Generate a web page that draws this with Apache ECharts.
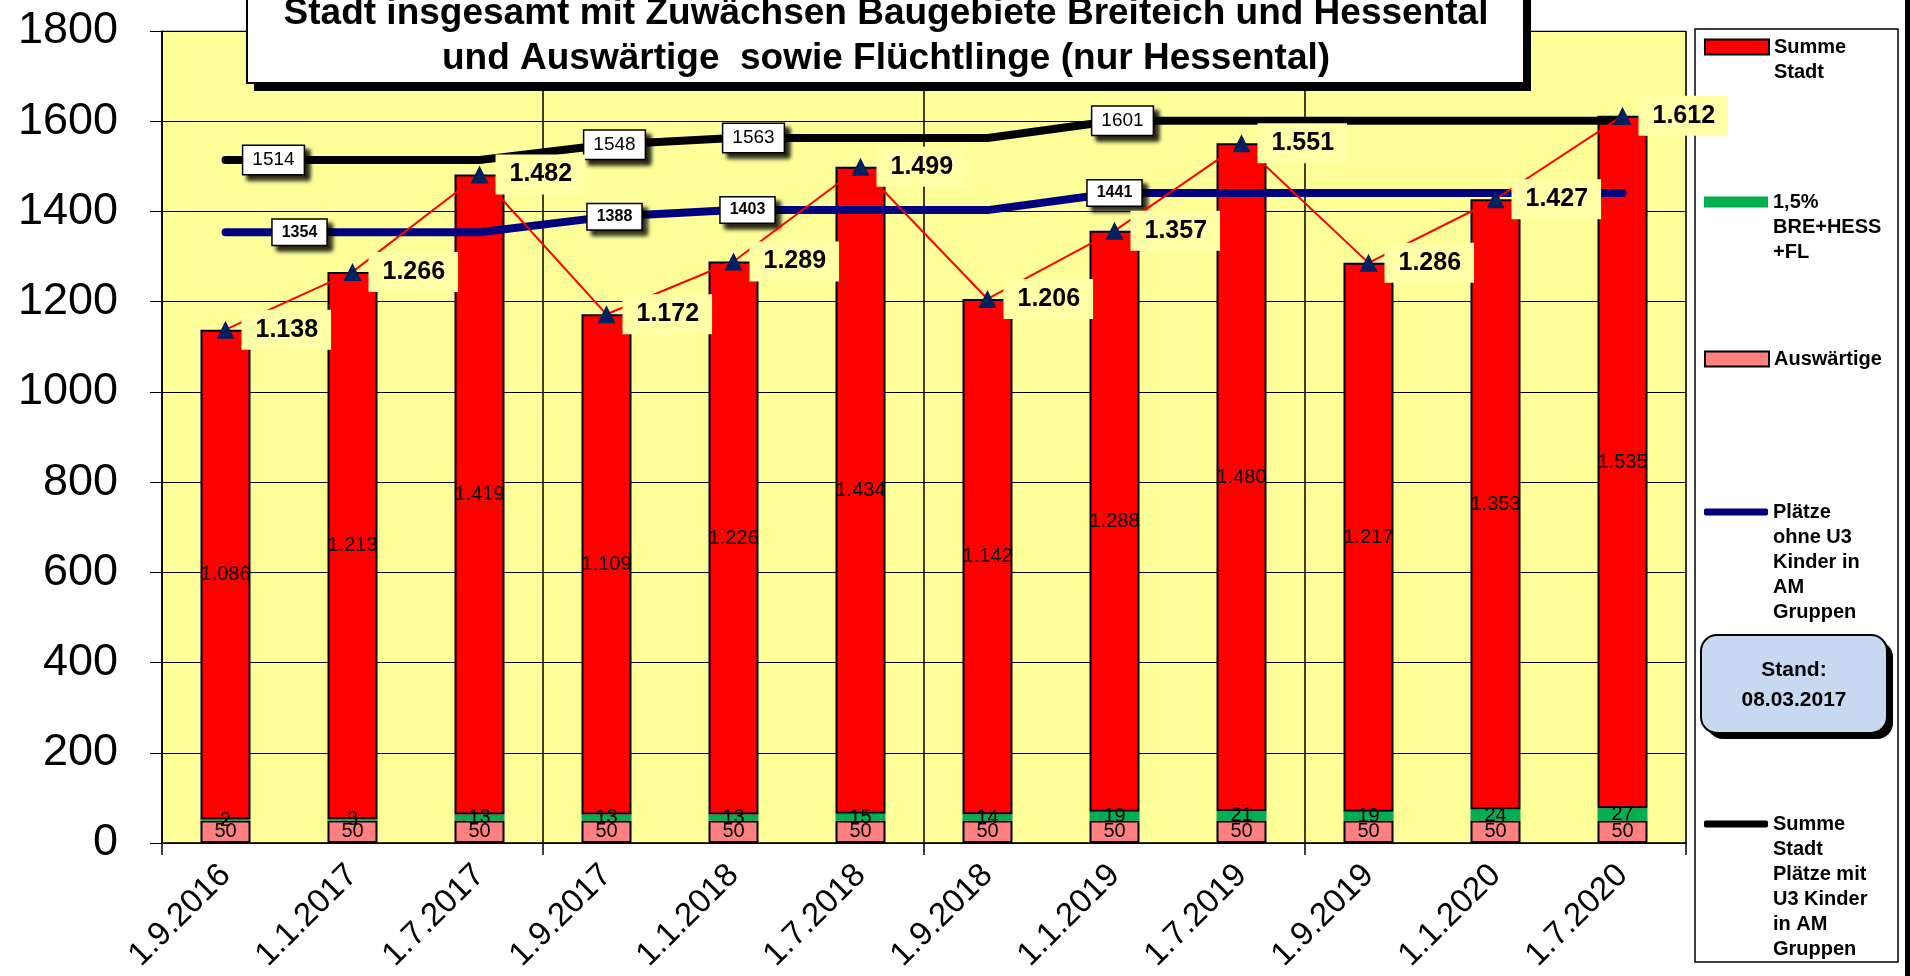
<!DOCTYPE html>
<html>
<head>
<meta charset="utf-8">
<title>Stadt insgesamt</title>
<script src="https://cdn.jsdelivr.net/npm/echarts@6/dist/echarts.min.js"></script>
<style>
  html, body { margin: 0; padding: 0; background: #fff; }
  #chart { width: 1910px; height: 976px; }
</style>
</head>
<body>
<div id="chart"></div>
<script>
// Stichtage
var categories = ['1.9.2016', '1.1.2017', '1.7.2017', '1.9.2017', '1.1.2018', '1.7.2018',
  '1.9.2018', '1.1.2019', '1.7.2019', '1.9.2019', '1.1.2020', '1.7.2020']
// Balken (gestapelt)
var auswaertige = [50, 50, 50, 50, 50, 50, 50, 50, 50, 50, 50, 50]
var zuwachs = [2, 3, 13, 13, 13, 15, 14, 19, 21, 19, 24, 27]
var summeStadt = [1086, 1213, 1419, 1109, 1226, 1434, 1142, 1288, 1480, 1217, 1353, 1535]
// Summe aller Kinder (rote Linie mit Dreiecken)
var gesamt = [1138, 1266, 1482, 1172, 1289, 1499, 1206, 1357, 1551, 1286, 1427, 1612]
// Plätze
var plaetzeOhneU3 = [1354, 1354, 1354, 1388, 1403, 1403, 1403, 1441, 1441, 1441, 1441, 1441]
var plaetzeMitU3 = [1514, 1514, 1514, 1548, 1563, 1563, 1563, 1601, 1601, 1601, 1601, 1601]
var yTicks = [0, 1800, 200] // min, max, interval

var FONT = 'Liberation Sans, Arial, sans-serif'

// Zahl im deutschen Format, z.B. 1.086
function dot(v) {
  if (v < 1000) return String(v)
  return Math.floor(v / 1000) + '.' + String(v % 1000).padStart(3, '0')
}

// welche Punkte der Platz-Linien eine Beschriftung haben (Index -> Versatz in px)
var navyLabelAt = { 0: 74, 3: 8, 4: 14, 7: 0 }
var blackLabelAt = { 0: 48, 3: 8, 4: 20, 7: 8 }

function boxLabel(dx, size, weight) {
  return {
    show: true,
    position: 'inside',
    offset: [dx, 0],
    color: '#000',
    fontFamily: FONT,
    fontSize: size,
    fontWeight: weight,
    backgroundColor: '#fff',
    borderColor: '#000',
    borderWidth: 1.5,
    padding: [5, 9, 4, 9],
    shadowColor: 'rgba(0,0,0,0.85)',
    shadowBlur: 4,
    shadowOffsetX: 5,
    shadowOffsetY: 5
  }
}

function withLabels(values, at, size, weight) {
  return values.map(function(v, i) {
    if (at[i] === undefined) return v
    return { value: v, label: boxLabel(at[i], size, weight) }
  })
}

// jede dritte Kategoriegrenze bekommt eine senkrechte Linie
function everyThird(idx) {
  return idx % 3 === 0
}

var legendText = {
  'Summe Stadt': ['Summe', 'Stadt'],
  '1,5% BRE+HESS+FL': ['1,5%', 'BRE+HESS', '+FL'],
  'Auswärtige': ['Auswärtige'],
  'Plätze ohne U3 Kinder in AM Gruppen': ['Plätze', 'ohne U3', 'Kinder in', 'AM', 'Gruppen'],
  'Summe Stadt Plätze mit U3 Kinder in AM Gruppen': ['Summe', 'Stadt', 'Plätze mit', 'U3 Kinder', 'in AM', 'Gruppen']
}

var LH = 25
// Symbol soll auf Höhe der ersten Textzeile stehen: leere Zeilen davor
function legendItem(name, iconCenter, iconH, icon) {
  var lines = legendText[name].length
  var h = (2 * lines - 1) * LH
  return {
    orient: 'vertical',
    left: 1704,
    top: iconCenter - h / 2,
    padding: 0,
    itemGap: 0,
    itemWidth: 64,
    itemHeight: iconH,
    icon: icon,
    selectedMode: false,
    data: [name],
    formatter: function(n) {
      var t = legendText[n]
      return new Array(t.length).join('\n') + t.join('\n')
    },
    textStyle: {
      color: '#000',
      fontFamily: FONT,
      fontWeight: 'bold',
      fontSize: 20,
      lineHeight: LH
    }
  }
}

var barLabel = { show: true, position: 'inside', color: '#000', fontFamily: FONT, fontSize: 20 }

var myChart = echarts.init(document.getElementById('chart'))
var option = {
  animation: false,
  backgroundColor: '#fff',
  title: {
    text: 'Stadt insgesamt mit Zuwächsen Baugebiete Breiteich und Hessental\nund Auswärtige  sowie Flüchtlinge (nur Hessental)',
    left: 886,
    top: -9,
    textAlign: 'center',
    padding: 0,
    z: 60,
    textStyle: {
      color: '#000',
      fontFamily: FONT,
      fontWeight: 'bold',
      fontSize: 37,
      lineHeight: 45
    }
  },
  legend: [
    legendItem('Summe Stadt', 47, 15, 'rect'),
    legendItem('1,5% BRE+HESS+FL', 202, 11, 'rect'),
    legendItem('Auswärtige', 359, 15, 'rect'),
    legendItem('Plätze ohne U3 Kinder in AM Gruppen', 512, 7, 'roundRect'),
    legendItem('Summe Stadt Plätze mit U3 Kinder in AM Gruppen', 824, 7, 'roundRect')
  ],
  grid: {
    left: 162,
    right: 224,
    top: 31,
    bottom: 133,
    containLabel: false,
    outerBoundsMode: 'none',
    show: true,
    backgroundColor: '#FFFF99',
    borderColor: '#808080',
    borderWidth: 1
  },
  xAxis: {
    type: 'category',
    data: categories,
    boundaryGap: true,
    axisLine: { lineStyle: { color: '#000', width: 1.5 } },
    axisTick: { show: true, interval: everyThird, length: 12, lineStyle: { color: '#000', width: 1.5 } },
    splitLine: { show: true, interval: everyThird, lineStyle: { color: '#000', width: 1.5 } },
    axisLabel: {
      interval: 0,
      rotate: 45,
      margin: 27,
      color: '#000',
      fontFamily: FONT,
      fontSize: 33
    }
  },
  yAxis: {
    type: 'value',
    min: yTicks[0],
    max: yTicks[1],
    interval: yTicks[2],
    axisLine: { show: true, lineStyle: { color: '#000', width: 1.5 } },
    axisTick: { show: true, length: 12, lineStyle: { color: '#000', width: 1 } },
    splitLine: { show: true, lineStyle: { color: '#000', width: 1 } },
    axisLabel: {
      margin: 44,
      color: '#000',
      fontFamily: FONT,
      fontSize: 45,
      formatter: function(v) { return String(v) }
    }
  },
  series: [
    {
      name: 'Auswärtige',
      type: 'bar',
      stack: 'kinder',
      barWidth: 50,
      data: auswaertige,
      itemStyle: { color: '#FF8080', borderColor: '#000', borderWidth: 2 },
      label: barLabel,
      z: 2
    },
    {
      name: '1,5% BRE+HESS+FL',
      type: 'bar',
      stack: 'kinder',
      barWidth: 50,
      data: zuwachs,
      itemStyle: { color: '#00B050', borderWidth: 0 },
      label: barLabel,
      z: 2
    },
    {
      name: 'Summe Stadt',
      type: 'bar',
      stack: 'kinder',
      barWidth: 50,
      data: summeStadt,
      itemStyle: { color: '#FF0000', borderColor: '#000', borderWidth: 2 },
      label: Object.assign({}, barLabel, {
        formatter: function(p) { return dot(p.value) }
      }),
      z: 2
    },
    {
      name: 'Plätze ohne U3 Kinder in AM Gruppen',
      type: 'line',
      data: withLabels(plaetzeOhneU3, navyLabelAt, 16, 'bold'),
      symbol: 'circle',
      symbolSize: 1,
      showAllSymbol: true,
      itemStyle: { color: '#000080' },
      lineStyle: { color: '#000080', width: 8, cap: 'round' },
      z: 3
    },
    {
      name: 'Summe Stadt Plätze mit U3 Kinder in AM Gruppen',
      type: 'line',
      data: withLabels(plaetzeMitU3, blackLabelAt, 19, 'normal'),
      symbol: 'circle',
      symbolSize: 1,
      showAllSymbol: true,
      itemStyle: { color: '#000' },
      lineStyle: { color: '#000', width: 8, cap: 'round' },
      z: 3
    },
    {
      name: 'Gesamt',
      type: 'line',
      data: gesamt,
      symbol: 'triangle',
      symbolSize: 18,
      itemStyle: { color: '#002060' },
      lineStyle: { color: '#FF0000', width: 2 },
      label: {
        show: true,
        position: 'right',
        distance: 7,
        formatter: function(p) { return dot(p.value) },
        color: '#000',
        fontFamily: FONT,
        fontWeight: 'bold',
        fontSize: 25,
        backgroundColor: '#FFFFA8',
        padding: [8, 13, 7, 14]
      },
      z: 5
    }
  ],
  graphic: [
    // Legendenrahmen
    {
      type: 'rect',
      z: 1,
      shape: { x: 1695, y: 29, width: 203, height: 933 },
      style: { fill: '#fff', stroke: '#000', lineWidth: 1.5 }
    },
    // äußerer Rahmen rechts
    {
      type: 'rect',
      z: 1,
      shape: { x: 1905, y: 0, width: 5, height: 976 },
      style: { fill: '#000' }
    },
    // Titelkasten mit Schatten
    {
      type: 'rect',
      z: 49,
      shape: { x: 254, y: -2, width: 1277, height: 93 },
      style: { fill: '#000' }
    },
    {
      type: 'rect',
      z: 50,
      shape: { x: 247, y: -10, width: 1277, height: 93 },
      style: { fill: '#fff', stroke: '#000', lineWidth: 2 }
    },
    // Stand-Kasten mit Schatten
    {
      type: 'rect',
      z: 9,
      shape: { x: 1707, y: 641, width: 186, height: 98, r: 16 },
      style: { fill: '#000' }
    },
    {
      type: 'rect',
      z: 10,
      shape: { x: 1701, y: 635, width: 186, height: 98, r: 16 },
      style: { fill: '#C6D9F1', stroke: '#000', lineWidth: 2 }
    },
    {
      type: 'text',
      z: 11,
      x: 1794,
      y: 685,
      style: {
        text: 'Stand:\n08.03.2017',
        align: 'center',
        verticalAlign: 'middle',
        fontFamily: FONT,
        fontWeight: 'bold',
        fontSize: 21,
        lineHeight: 30,
        fill: '#000'
      }
    }
  ]
}
myChart.setOption(option)
</script>
</body>
</html>
